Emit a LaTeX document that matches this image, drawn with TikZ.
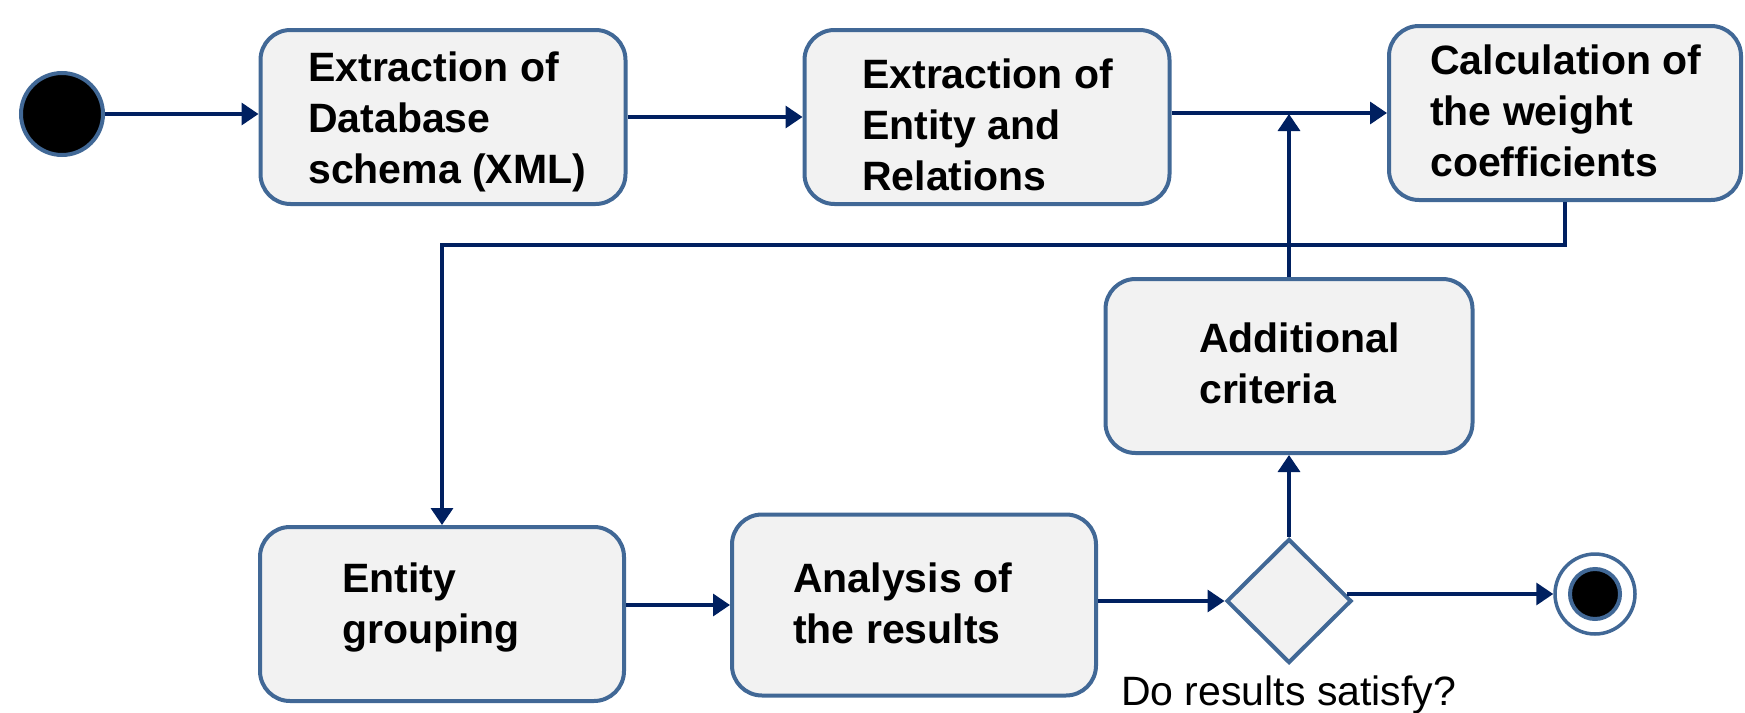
\documentclass[tikz,border=0pt]{standalone}
\usepackage{fontspec}
\setmainfont{Liberation Sans}
\usetikzlibrary{shapes.geometric,arrows.meta}
\definecolor{bord}{RGB}{65,104,150}
\definecolor{arrc}{RGB}{0,32,96}
\definecolor{boxfill}{RGB}{242,242,242}
\begin{document}
\begin{tikzpicture}[x=1pt,y=-1pt,
  box/.style={draw=bord, line width=4pt, fill=boxfill, rounded corners=30pt, rectangle, inner sep=0pt},
  lbl/.style={anchor=base west, align=left, inner sep=0pt, font=\bfseries\fontsize{41}{51}\selectfont},
  arr/.style={draw=arrc, line width=3.5pt, -{Triangle[length=17pt,width=22pt]}},
  endpt/.style={circle, draw=bord, line width=4pt, inner sep=0pt}]
\useasboundingbox (0,0) rectangle (1745,712);
\node[box, minimum width=365pt, minimum height=174pt] (b1) at (443,117) {};
\node[lbl] (t1) at (308,183) {Extraction of\\Database\\schema (XML)};
\node[box, minimum width=365pt, minimum height=174pt] (b2) at (987,117) {};
\node[lbl] (t2) at (862,190) {Extraction of\\Entity and\\Relations};
\node[box, minimum width=352pt, minimum height=174pt] (b3) at (1565,113) {};
\node[lbl] (t3) at (1430,176) {Calculation of\\the weight\\coefficients};
\node[box, minimum width=367pt, minimum height=174pt] (ac) at (1289,366) {};
\node[lbl] (t4) at (1199,403) {Additional\\criteria};
\node[box, minimum width=364pt, minimum height=174pt] (eg) at (442,614) {};
\node[lbl] (t5) at (342,643) {Entity\\grouping};
\node[box, minimum width=364pt, minimum height=181pt] (an) at (914,605) {};
\node[lbl] (t6) at (793,643) {Analysis of\\the results};
\node[diamond, draw=bord, line width=4pt, fill=boxfill, minimum width=125pt, minimum height=124pt, inner sep=0pt] (d) at (1289,601) {};
\node[endpt, fill=black, minimum size=82pt] (s) at (62,114) {};
\node[endpt, fill=white, line width=3.5pt, minimum size=80pt] (e) at (1595,594) {};
\node[endpt, fill=black, minimum size=50pt] (ei) at (e) {};
\node[anchor=base west, inner sep=0pt, font=\fontsize{41}{51}\selectfont] (q) at (1121,705) {Do results satisfy?};
\coordinate (k) at (442,245);
\coordinate (j) at (1289,114);
\draw[arr] (s) -- (s -| b1.west);
\draw[arr] (b1.east) -- (b2.west);
\draw[arr] (b2.east |- b3.west) -- (b3.west);
\draw[arr] (b3.south) |- (k) -- (eg.north);
\draw[arr] (ac.north) -- (j);
\draw[arr] (eg.east |- an.west) -- (an.west);
\draw[arr] (an.east |- d.west) -- (d.west);
\draw[arr] (d.north) -- (ac.south);
\draw[arr, shorten <=-7pt] (d.east |- e.west) -- (e.west);
\end{tikzpicture}
\end{document}
